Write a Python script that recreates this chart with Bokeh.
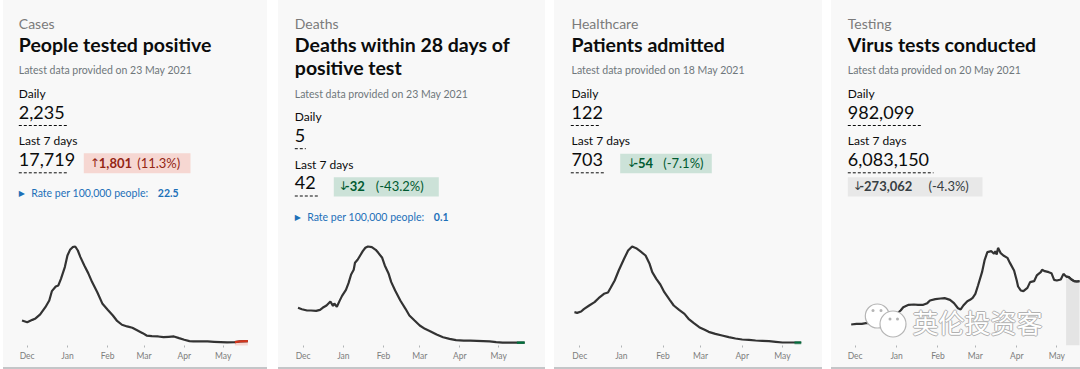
import pandas as pd
from bokeh.plotting import figure
from bokeh.layouts import row, column
from bokeh.models import Range1d, Spacer, FixedTicker, DatetimeTickFormatter
from bokeh.core.properties import value
from bokeh.embed import file_html
from bokeh.resources import INLINE

# ---------------- data ----------------
categories = ["Cases", "Deaths", "Healthcare", "Testing"]
titles = [["People tested positive"], ["Deaths within 28 days of", "positive test"],
          ["Patients admitted"], ["Virus tests conducted"]]
latest = ["23 May 2021", "23 May 2021", "18 May 2021", "20 May 2021"]
daily = ["2,235", "5", "122", "982,099"]
last7 = ["17,719", "42", "703", "6,083,150"]
change_arrow = ["\u2191", "\u2193", "\u2193", "\u2193"]
change = ["1,801", "-32", "-54", "-273,062"]
change_pct = ["(11.3%)", "(-43.2%)", "(-7.1%)", "(-4.3%)"]
rate = ["22.5", "0.1", None, None]
month_ticks = ["2020-12-01", "2021-01-01", "2021-02-01", "2021-03-01", "2021-04-01", "2021-05-01"]

cases_dates = ["2020-11-27", "2020-12-01", "2020-12-05", "2020-12-07", "2020-12-11", "2020-12-15",
               "2020-12-18", "2020-12-20", "2020-12-23", "2020-12-25", "2020-12-27", "2020-12-30",
               "2021-01-01", "2021-01-03", "2021-01-05", "2021-01-07", "2021-01-09", "2021-01-11",
               "2021-01-14", "2021-01-17", "2021-01-20", "2021-01-24", "2021-01-28", "2021-02-01",
               "2021-02-05", "2021-02-08", "2021-02-12", "2021-02-16", "2021-02-20", "2021-02-24",
               "2021-02-28", "2021-03-03", "2021-03-07", "2021-03-12", "2021-03-16", "2021-03-20",
               "2021-03-24", "2021-03-28", "2021-04-01", "2021-04-05", "2021-04-08", "2021-04-14",
               "2021-04-19", "2021-04-24", "2021-04-29", "2021-05-04", "2021-05-10", "2021-05-14",
               "2021-05-20"]
cases_values = [15100, 14100, 15500, 16100, 18700, 23000, 27000, 32500, 35300, 35900, 39800, 46800,
                53700, 57000, 58600, 59000, 56600, 52700, 47700, 43200, 37900, 31900, 25000, 21500,
                18100, 15100, 12600, 11600, 10800, 9200, 7600, 6200, 5800, 5650, 5250, 5450,
                5650, 4650, 3700, 2900, 2700, 2700, 2700, 2500, 2300, 2100, 2300, 2700, 2900]

deaths_dates = ["2020-11-27", "2020-11-30", "2020-12-04", "2020-12-07", "2020-12-11", "2020-12-14",
                "2020-12-16", "2020-12-19", "2020-12-22", "2020-12-24", "2020-12-25", "2020-12-27",
                "2020-12-29", "2020-12-31", "2021-01-03", "2021-01-05", "2021-01-07", "2021-01-09",
                "2021-01-10", "2021-01-12", "2021-01-14", "2021-01-16", "2021-01-18", "2021-01-20",
                "2021-01-23", "2021-01-26", "2021-01-28", "2021-01-31", "2021-02-02", "2021-02-05",
                "2021-02-07", "2021-02-10", "2021-02-14", "2021-02-18", "2021-02-21", "2021-02-25",
                "2021-03-01", "2021-03-05", "2021-03-09", "2021-03-14", "2021-03-19", "2021-03-24",
                "2021-03-29", "2021-04-04", "2021-04-09", "2021-04-14", "2021-04-19", "2021-04-24",
                "2021-04-29", "2021-05-04", "2021-05-10", "2021-05-15", "2021-05-21"]
deaths_values = [460, 442, 425, 425, 421, 434, 460, 490, 541, 485, 516, 473, 546, 614,
                 692, 778, 890, 950, 1040, 1079, 1135, 1191, 1234, 1251,
                 1242, 1208, 1169, 1105, 1006, 898, 791, 683, 554, 447,
                 361, 296, 232, 189, 159, 116, 81, 60, 43, 38,
                 38, 34, 30, 26, 17, 12, 12, 12, 12]

admit_dates = ["2020-11-27", "2020-11-29", "2020-12-02", "2020-12-04", "2020-12-08", "2020-12-12",
               "2020-12-15", "2020-12-19", "2020-12-22", "2020-12-24", "2020-12-27", "2020-12-30",
               "2021-01-03", "2021-01-06", "2021-01-09", "2021-01-12", "2021-01-15", "2021-01-19",
               "2021-01-22", "2021-01-24", "2021-01-27", "2021-01-30", "2021-02-02", "2021-02-06",
               "2021-02-09", "2021-02-13", "2021-02-17", "2021-02-20", "2021-02-24", "2021-02-28",
               "2021-03-04", "2021-03-07", "2021-03-12", "2021-03-17", "2021-03-22", "2021-03-27",
               "2021-04-01", "2021-04-06", "2021-04-11", "2021-04-16", "2021-04-21", "2021-04-26",
               "2021-05-01", "2021-05-06", "2021-05-10", "2021-05-15"]
admit_values = [1332, 1305, 1359, 1454, 1603, 1739, 1901, 2077, 2131, 2321,
                2619, 3025, 3499, 3837, 4000, 3932, 3810, 3634, 3296, 2957,
                2686, 2456, 2145, 1833, 1603, 1427, 1264, 1062, 886, 723,
                615, 533, 452, 385, 317, 263, 222, 209, 181, 168,
                154, 127, 100, 100, 100, 100]

tests_dates = ["2020-11-28", "2020-12-02", "2020-12-06", "2020-12-09", "2020-12-13", "2020-12-21",
               "2020-12-28", "2021-01-04", "2021-01-06", "2021-01-10", "2021-01-14", "2021-01-17",
               "2021-01-21", "2021-01-24", "2021-01-26", "2021-01-30", "2021-02-03", "2021-02-06",
               "2021-02-10", "2021-02-13", "2021-02-16", "2021-02-18", "2021-02-20", "2021-02-23",
               "2021-02-25", "2021-02-27", "2021-03-01", "2021-03-03", "2021-03-06", "2021-03-08",
               "2021-03-10", "2021-03-13", "2021-03-15", "2021-03-16", "2021-03-17", "2021-03-18",
               "2021-03-20", "2021-03-22", "2021-03-25", "2021-03-27", "2021-03-30", "2021-04-01",
               "2021-04-02", "2021-04-04", "2021-04-06", "2021-04-09", "2021-04-11", "2021-04-14",
               "2021-04-16", "2021-04-19", "2021-04-20", "2021-04-22", "2021-04-25", "2021-04-27",
               "2021-04-29", "2021-05-01", "2021-05-04", "2021-05-06", "2021-05-08", "2021-05-10",
               "2021-05-12", "2021-05-14", "2021-05-16", "2021-05-18"]
tests_values = [312000, 322000, 322000, 332000, 332000, 347000, 396000,
                520000, 569000, 604000, 609000, 604000, 604000, 629000, 668000, 688000,
                698000, 703000, 678000, 629000, 554000, 535000, 594000, 658000, 678000, 708000,
                767000, 891000, 1089000, 1272000, 1386000, 1401000, 1361000, 1401000, 1351000,
                1450000, 1371000, 1337000, 1302000, 1223000, 1114000,
                965000, 876000, 817000, 807000, 856000, 941000, 955000, 1040000, 1089000, 1124000,
                1104000, 1089000, 1074000, 975000,
                965000, 980000, 1064000, 1025000, 1015000, 980000, 955000, 950000, 955000]

series_dates = [cases_dates, deaths_dates, admit_dates, tests_dates]
series_values = [cases_values, deaths_values, admit_values, tests_values]

# ---------------- layout / style ----------------
BG = "#f8f8f8"
FONT = "Lato"
INK = "#0b0c0c"
GREY = "#6f777b"
LINE = "#333333"
TOP, SPLIT, FRAME_BOTTOM, CARD_BOTTOM, PAGE_BOTTOM = 0, 232, 345, 367, 369
BASE = pd.Timestamp("2020-12-01")

# vertical centres (screen px) of each text row for a one-line title
ROW_Y = dict(cat=24.3, title=45.3, latest=70.5, daily_lbl=93.8, daily_num=112.7,
             ul1=125.0, last7_lbl=141.2, last7_num=160.0, ul2=172.3)

cards = [
    dict(left=3, width=264, tx=18.3, dy=0.0,
         ul=[(18.3, 67.7), (18.3, 67.7)],
         badge=(83.3, 190.0, 152.7, 172.7), bx=(89.3, 98.3, 136.7), bcy=162.8,
         bcol=("#f6d7d2", "#942514"), rate=(18.3, 30.7, 157.3, 193.0),
         chart=dict(x0=-18.26, x1=185.13, y0=296, y1=67283, hl="2021-05-10",
                    hl_line="#d4351c", hl_fill="#f6d7d2")),
    dict(left=278, width=267, tx=294.3, dy=23.2,
         ul=[(294.3, 305.3), (294.3, 317.7)],
         badge=(333.3, 438.3, 176.7, 196.0), bx=(337.7, 344.3, 375.3), bcy=186.4,
         bcol=("#cce2d8", "#005a30"), rate=(294.3, 306.7, 433.3, 217.0),
         chart=dict(x0=-19.07, x1=187.1, y0=-26, y1=1431, hl="2021-05-15",
                    hl_line="#00703c", hl_fill="#cce2d8")),
    dict(left=554, width=268, tx=571.0, dy=0.0,
         ul=[(570.3, 599.7), (570.3, 603.7)],
         badge=(619.7, 711.3, 153.3, 172.7), bx=(626.0, 632.7, 662.7), bcy=163.0,
         bcol=("#cce2d8", "#005a30"), rate=None,
         chart=dict(x0=-18.85, x1=180.85, y0=-22, y1=4568, hl="2021-05-10",
                    hl_line="#00703c", hl_fill="#cce2d8")),
    dict(left=831, width=249, tx=847.3, dy=0.0,
         ul=[(847.3, 922.0), (847.3, 933.0)],
         badge=(847.3, 982.0, 176.7, 196.0), bx=(852.0, 858.7, 928.0), bcy=186.4,
         bcol=("#e8e8e8", "#383f43"), rate=None,
         chart=dict(x0=-17.75, x1=168.76, y0=0, y1=1678050, hl="2021-05-08",
                    hl_line=LINE, hl_fill="#e4e4e4")),
]


def add_text(p, x, yc, s, size, color, bold=False, font=FONT):
    # yc is the visual (cap-height) centre of the text
    p.text(x=[x], y=[yc - 0.06 * size], text=[s], text_font=value(font), text_font_size=f"{size}px",
           text_color=color, text_font_style="bold" if bold else "normal",
           text_baseline="middle", text_align="left")


def text_panel(i, c):
    p = figure(width=c["width"], height=SPLIT - TOP,
               x_range=Range1d(c["left"], c["left"] + c["width"]), y_range=Range1d(SPLIT, TOP),
               x_axis_location=None, y_axis_location=None, toolbar_location=None,
               output_backend="svg", min_border=0, background_fill_color=BG,
               border_fill_color=BG, outline_line_color=None)
    p.grid.visible = False
    tx, dy = c["tx"], c["dy"]
    add_text(p, tx, ROW_Y["cat"], categories[i], 14, "#7b7b7b")
    for k, t in enumerate(titles[i]):
        add_text(p, tx, ROW_Y["title"] + 23.0 * k, t, 19.5, INK, bold=True)
    add_text(p, tx, ROW_Y["latest"] + dy, "Latest data provided on " + latest[i], 10.5, GREY)
    add_text(p, tx, ROW_Y["daily_lbl"] + dy, "Daily", 12, INK)
    add_text(p, tx, ROW_Y["daily_num"] + dy, daily[i], 18, INK)
    add_text(p, tx, ROW_Y["last7_lbl"] + dy, "Last 7 days", 12, INK)
    add_text(p, tx, ROW_Y["last7_num"] + dy, last7[i], 18, INK)
    (a1, a2), (b1, b2) = c["ul"]
    y1, y2 = ROW_Y["ul1"] + dy, ROW_Y["ul2"] + dy
    p.segment(x0=[a1, b1], y0=[y1, y2], x1=[a2, b2], y1=[y1, y2],
              line_color=INK, line_width=1, line_dash="3 2")
    l, r, t, b = c["badge"]
    bg, fg = c["bcol"]
    p.quad(left=[l], right=[r], top=[t], bottom=[b], fill_color=bg, line_color=None)
    x1, x2, x3 = c["bx"]
    add_text(p, x1, c["bcy"], change_arrow[i], 12, fg, font="DejaVu Sans")
    add_text(p, x2, c["bcy"], change[i], 13, fg, bold=True)
    add_text(p, x3, c["bcy"], change_pct[i], 13, fg)
    if c["rate"] is not None and rate[i] is not None:
        rx0, rx1, rx2, ry = c["rate"]
        add_text(p, rx0, ry, "\u25B6", 8, "#1d70b8", font="DejaVu Sans")
        add_text(p, rx1, ry, "Rate per 100,000 people:", 10.5, "#1d70b8")
        add_text(p, rx2, ry, rate[i], 10.5, "#1d70b8", bold=True)
    return p


def chart_panel(i, c):
    cfg = c["chart"]
    x = pd.to_datetime(series_dates[i])
    vals = series_values[i]
    p = figure(width=c["width"], height=CARD_BOTTOM - SPLIT, x_axis_type="datetime",
               x_range=Range1d(BASE + pd.Timedelta(days=cfg["x0"]), BASE + pd.Timedelta(days=cfg["x1"])),
               y_range=Range1d(cfg["y0"], cfg["y1"]), y_axis_location=None,
               toolbar_location=None, output_backend="svg",
               min_border_left=0, min_border_right=0, min_border_top=0,
               min_border_bottom=CARD_BOTTOM - FRAME_BOTTOM,
               background_fill_color=BG, border_fill_color=BG, outline_line_color=None)
    p.grid.visible = False
    ax = p.xaxis[0]
    ax.ticker = FixedTicker(ticks=[pd.Timestamp(m).value // 10**6 for m in month_ticks])
    ax.formatter = DatetimeTickFormatter(days="%b", months="%b", years="%b")
    ax.axis_line_color = None
    ax.major_tick_in = 0
    ax.major_tick_out = 2
    ax.major_tick_line_color = "#b1b4b6"
    ax.minor_tick_line_color = None
    ax.major_label_text_font = FONT
    ax.major_label_text_font_size = "8.5px"
    ax.major_label_text_color = "#7d7d7d"
    ax.major_label_standoff = 3
    mask = x >= pd.Timestamp(cfg["hl"])
    xh = x[mask].values
    vh = [v for v, m in zip(vals, mask) if m]
    p.varea(x=xh, y1=0, y2=vh, fill_color=cfg["hl_fill"])
    p.line(x.values, vals, line_color=LINE, line_width=2.2)
    p.line(xh, vh, line_color=cfg["hl_line"], line_width=2.2)

    if i == 3:
        # WeChat watermark overlay (positioned in screen pixels)
        def sx(px):
            return BASE + pd.Timedelta(days=cfg["x0"] + (px - c["left"]) / c["width"] * (cfg["x1"] - cfg["x0"]))

        def sy(py):
            return cfg["y1"] - (py - SPLIT) / (FRAME_BOTTOM - SPLIT) * (cfg["y1"] - cfg["y0"])

        p.scatter(x=[sx(876.8)], y=[sy(315.5)], size=24, marker="circle",
                  fill_color="white", line_color="#b5b5b5", line_width=1.2)
        p.scatter(x=[sx(892.5)], y=[sy(323.5)], size=26, marker="circle",
                  fill_color="white", line_color="#b5b5b5", line_width=1.2)
        p.scatter(x=[sx(872.5), sx(880.5), sx(889.5), sx(897)], y=[sy(310), sy(310), sy(318.5), sy(318.5)],
                  size=3, marker="circle", fill_color="#b5b5b5", line_color=None)
        wm = "\u82f1\u4f26\u6295\u8d44\u5ba2"
        for ox, oy in [(-1, 0), (1, 0), (0, -1), (0, 1)]:
            p.text(x=[sx(912 + ox)], y=[sy(321 + oy)], text=[wm], text_font=value("Noto Sans CJK SC"),
                   text_font_size="26px", text_color="#b0b0b0", text_baseline="middle")
        p.text(x=[sx(912)], y=[sy(321)], text=[wm], text_font=value("Noto Sans CJK SC"),
               text_font_size="26px", text_color="white", text_baseline="middle")
    return p


children = [Spacer(width=cards[0]["left"], height=PAGE_BOTTOM)]
for i, c in enumerate(cards):
    bottom_rule = Spacer(width=c["width"], height=PAGE_BOTTOM - CARD_BOTTOM,
                         styles={"background-color": "#c4c6c8"})
    children.append(column(text_panel(i, c), chart_panel(i, c), bottom_rule,
                           styles={"background-color": BG}))
    if i < 3:
        gap = cards[i + 1]["left"] - (c["left"] + c["width"])
        children.append(Spacer(width=gap, height=PAGE_BOTTOM))

layout = row(*children)
open("out.html", "w").write(file_html(layout, INLINE))
